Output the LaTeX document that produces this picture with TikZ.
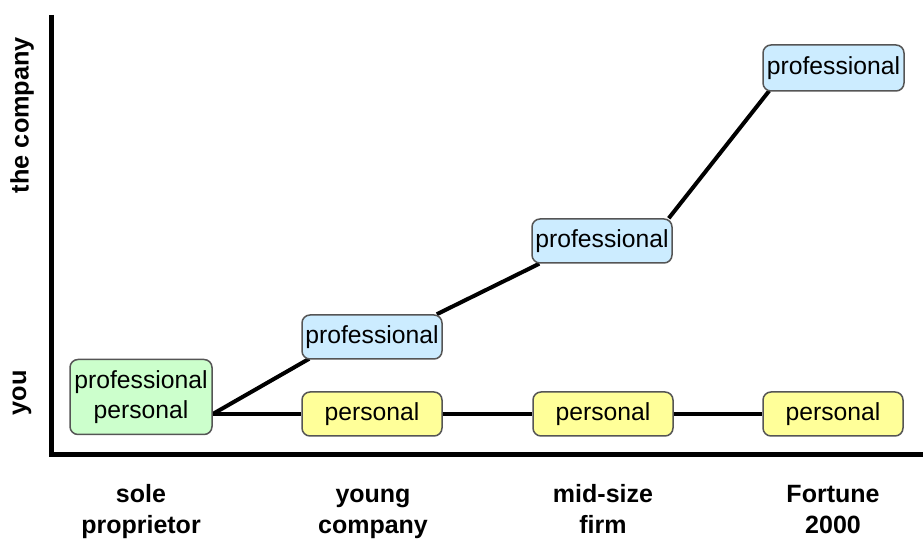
\documentclass[tikz,border=0pt]{standalone}
\usepackage{fontspec}
\setmainfont{Liberation Sans}
\usetikzlibrary{calc,backgrounds}
\definecolor{gfill}{HTML}{CCFFCC}
\definecolor{bfill}{HTML}{CCECFF}
\definecolor{yfill}{HTML}{FFFF99}
\definecolor{bord}{HTML}{555555}
\newcommand{\lstrut}{\rule{0pt}{18pt}}
\tikzset{
  box/.style={draw=bord, line width=1.5pt, rounded corners=8pt, inner sep=0pt,
    minimum width=140pt, minimum height=44pt, align=center,
    font=\fontsize{24.7}{30}\selectfont},
  profbox/.style={box, fill=bfill},
  persbox/.style={box, fill=yfill},
  link/.style={line width=4pt},
  axis/.style={line width=4.2pt},
  xlab/.style={font=\bfseries\fontsize{25}{31}\selectfont, align=center, anchor=north, inner sep=0pt},
  ylab/.style={font=\bfseries\fontsize{25.3}{30}\selectfont, rotate=90}
}
\begin{document}
\begin{tikzpicture}[x=1pt,y=1pt]
\useasboundingbox (0,0) rectangle (923,538);
% axes
\coordinate (ytop) at (51.5,523);
\coordinate (orig) at (51.5,83.5);
\coordinate (xend) at (923,83.5);
\draw[axis] (ytop) -- ($(orig)+(0,-2.1)$);
\draw[axis] ($(orig)+(-2.1,0)$) -- (xend);
% nodes
\node[box, fill=gfill, minimum width=142pt, minimum height=75pt] (g) at (141,141) {professional\\personal};
\node[profbox] (yprof) at (372,201) {professional};
\node[persbox] (ypers) at (372,124) {personal};
\node[profbox] (mprof) at (602,297) {professional};
\node[persbox] (mpers) at (603,124) {personal};
\node[profbox, minimum width=141pt, minimum height=46pt] (fprof) at (833.5,470) {professional};
\node[persbox] (fpers) at (833,124) {personal};
% connectors
\begin{scope}[on background layer]
\coordinate (gj) at (g.east |- ypers.west);
\draw[link] (gj) -- ($(yprof.south west)+(8,1)$);
\draw[link] ($(yprof.north east)+(-6,0)$) -- ($(mprof.south west)+(8,0)$);
\draw[link] ($(mprof.north east)+(-4,0)$) -- ($(fprof.south west)+(7,1)$);
\draw[link] (gj) -- (ypers.west);
\draw[link] (ypers.east) -- (mpers.west);
\draw[link] (mpers.east) -- (fpers.west);
\end{scope}
% labels
\node[xlab] (l1) at (141,54) {\lstrut sole\\\lstrut proprietor};
\node[xlab] (l2) at (373,54) {\lstrut young\\\lstrut company};
\node[xlab] (l3) at (603,54) {\lstrut mid-size\\\lstrut firm};
\node[xlab] (l4) at (833,54) {\lstrut Fortune\\\lstrut 2000};
\node[ylab] (la) at (22,423) {the company};
\node[ylab] (lb) at (22,145) {you};
\end{tikzpicture}
\end{document}
